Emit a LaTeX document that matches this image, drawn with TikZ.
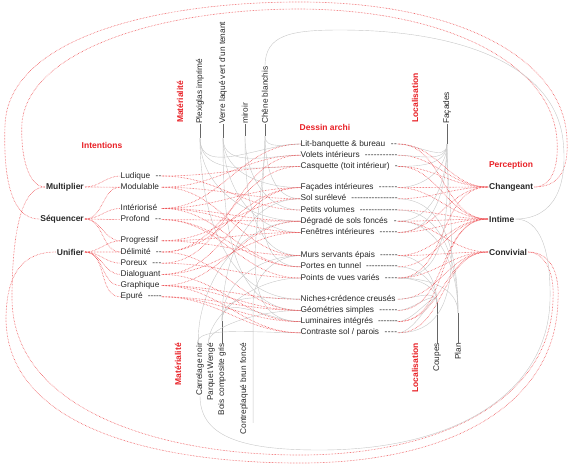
\documentclass[tikz,border=0pt]{standalone}
\usepackage{fontspec}
\setmainfont{Liberation Sans}
\usetikzlibrary{positioning}

\definecolor{rouge}{RGB}{232,32,38}
\definecolor{encre}{RGB}{40,40,40}
\newcommand{\filet}[2]{\hbox to #1{#2\hskip 5pt\xleaders\hbox{-}\hfill}}

\begin{document}
\begin{tikzpicture}[x=1pt,y=1pt,font=\fontsize{8.3}{10}\selectfont]
\tikzstyle{it}=[anchor=west,inner sep=0pt,text height=7.4pt,text depth=3.4pt,text=encre]
\tikzstyle{cat}=[font=\fontsize{8.5}{10}\selectfont\bfseries,text=encre,inner sep=1pt]
\tikzstyle{hd}=[font=\fontsize{8.5}{10}\selectfont\bfseries,text=rouge,inner sep=0pt]
\tikzstyle{mat}=[rotate=90,inner sep=0pt,text=encre]
\tikzstyle{rd}=[draw=rouge!80,line width=0.65pt,dash pattern=on 0.5pt off 1pt]
\tikzstyle{gl}=[draw=black!22,line width=0.4pt]
\tikzstyle{stem}=[draw=black!60,line width=0.6pt]
\tikzstyle{lr}=[out=0,in=180]
\tikzstyle{dl}=[out=-90,in=180]
\tikzstyle{ul}=[out=90,in=180]
\tikzstyle{dr}=[out=-90,in=0]
\tikzstyle{ur}=[out=90,in=0]
\useasboundingbox (0,0) rectangle (578,-467);

% intentions
\node[hd] (intentions) at (102,-145) {Intentions};
\node[cat,anchor=east] (mult) at (85,-187) {Multiplier};
\node[cat,anchor=east] (seq)  at (85,-219) {Séquencer};
\node[cat,anchor=east] (unif) at (85,-252) {Unifier};

\node[it] (ludique) at (120.5,-176)      {\filet{41pt}{Ludique}};
\node[it, below=0pt of ludique] (modul)   {\filet{41pt}{Modulable}};
\node[it, below=10pt of modul]  (interi)  {\filet{41pt}{Intériorisé}};
\node[it, below=0pt of interi]  (profond) {\filet{41pt}{Profond}};
\node[it, below=10pt of profond] (progr)  {\filet{41pt}{Progressif}};
\node[it, below=0pt of progr]   (delim)   {\filet{41pt}{Délimité}};
\node[it, below=0pt of delim]   (poreux)  {\filet{41pt}{Poreux}};
\node[it, below=0pt of poreux]  (dialog)  {\filet{41pt}{Dialoguant}};
\node[it, below=0pt of dialog]  (graph)   {\filet{41pt}{Graphique}};
\node[it, below=0pt of graph]   (epure)   {\filet{41pt}{Epuré}};

% dessin archi
\node[hd] (dessin) at (325,-127) {Dessin archi};
\node[it] (lit) at (300.5,-144)            {\filet{97pt}{Lit-banquette \& bureau}};
\node[it, below=0pt of lit]     (volets)   {\filet{97pt}{Volets intérieurs}};
\node[it, below=0pt of volets]  (casq)     {\filet{97pt}{Casquette (toit intérieur)}};
\node[it, below=10pt of casq]   (facint)   {\filet{97pt}{Façades intérieures}};
\node[it, below=0pt of facint]  (sol)      {\filet{97pt}{Sol surélevé}};
\node[it, below=0pt of sol]     (petits)   {\filet{97pt}{Petits volumes}};
\node[it, below=0pt of petits]  (degrade)  {\filet{97pt}{Dégradé de sols foncés}};
\node[it, below=0pt of degrade] (fenetres) {\filet{97pt}{Fenêtres intérieures}};
\node[it, below=12pt of fenetres] (murs)   {\filet{97pt}{Murs servants épais}};
\node[it, below=0pt of murs]    (portes)   {\filet{97pt}{Portes en tunnel}};
\node[it, below=0pt of portes]  (points)   {\filet{97pt}{Points de vues variés}};
\node[it, below=10pt of points] (niches)   {\filet{97pt}{Niches+crédence creusés}};
\node[it, below=0pt of niches]  (geom)     {\filet{97pt}{Géométries simples}};
\node[it, below=0pt of geom]    (lumin)    {\filet{97pt}{Luminaires intégrés}};
\node[it, below=0pt of lumin]   (contr)    {\filet{97pt}{Contraste sol / parois}};

% perception
\node[hd] (perception) at (511,-165) {Perception};
\node[cat,anchor=west] (chang)  at (488,-187) {Changeant};
\node[cat,anchor=west] (intime) at (488,-219) {Intime};
\node[cat,anchor=west] (conviv) at (488,-252) {Convivial};

% materialite / localisation
\node[hd,rotate=90,anchor=west] (mathaut) at (180,-123) {Matérialité};
\node[mat,anchor=west] (plexi)  at (200,-124) {Plexiglas imprimé};
\node[mat,anchor=west] (verre)  at (223,-124) {Verre laqué vert d'un tenant};
\node[mat,anchor=west] (miroir) at (245,-124) {miroir};
\node[mat,anchor=west] (chene)  at (265,-124) {Chêne blanchis};
\node[hd,rotate=90,anchor=east] (matbas) at (178,-343) {Matérialité};
\node[mat,anchor=east] (carrel)   at (200,-343) {Carrelage noir};
\node[mat,anchor=east] (parquet)  at (211,-343) {Parquet Wengé};
\node[mat,anchor=east] (bois)     at (222,-343) {Bois composite gris};
\node[mat,anchor=east] (contrepl) at (244,-343) {Contreplaqué brun foncé};
\node[hd,rotate=90,anchor=west] (lochaut) at (415,-123) {Localisation};
\node[mat,anchor=west] (facades) at (447,-124) {Façades};
\node[hd,rotate=90,anchor=east] (locbas) at (415,-343) {Localisation};
\node[mat,anchor=east] (coupes) at (437,-343) {Coupes};
\node[mat,anchor=east] (plan)   at (458,-343) {Plan};

% tiges
\draw[stem] (plexi.west)   -- ++(0,-14) coordinate (plx);
\draw[stem] (verre.west)   -- ++(0,-14) coordinate (vrx);
\draw[stem] (miroir.west)  -- ++(0,-12) coordinate (mrx);
\draw[stem] (chene.west)   -- ++(0,-12) coordinate (chx);
\draw[stem] (facades.west) -- ++(0,-20) coordinate (fcx);
\draw[stem] (coupes.east)  -- ++(0,40)  coordinate (cpx);
\draw[stem] (plan.east)    -- ++(0,30)  coordinate (plnx);
\draw[stem] (bois.east)    -- ++(0,22)  coordinate (bsx);

% liens gris
\path[gl]
(plx)  edge[dl] (lit) edge[dl] (casq) edge[dl] (degrade) edge[dl] (niches)
(vrx)  edge[dl] (volets) edge[dl] (facint) edge[dl] (fenetres) edge[dl] (geom)
(mrx)  edge[dl] (petits) edge[dl] (murs)
(chx)  edge[dl] (sol) edge[dl] (lit) edge[dl] (portes) edge[dl] (lumin)
(carrel)  edge[ul] (degrade) edge[ul] (contr)
(parquet) edge[ul] (geom) edge[ul] (points)
(bsx)  edge[ul] (lumin) edge[ul] (niches) edge[ul] (sol) edge[ul] (murs)
(fcx)  edge[dr] (lit) edge[dr] (volets) edge[dr] (casq) edge[dr] (facint)
       edge[dr] (fenetres) edge[dr] (degrade) edge[dr] (points) edge[dr] (contr)
(cpx)  edge[ur] (niches) edge[ur] (geom) edge[ur] (contr) edge[ur] (murs)
       edge[ur] (portes) edge[ur] (points) edge[ur] (lumin)
(plnx) edge[ur] (sol) edge[ur] (petits) edge[ur] (degrade) edge[ur] (points);
\draw[gl] ([xshift=5pt,yshift=12pt]contrepl.south west) -- ([xshift=5pt,yshift=40pt]contrepl.south east) to[ul] (murs.west);

% liens rouges
\path[rd]
(mult) edge[lr] (ludique) edge[lr] (modul)
(seq)  edge[lr] (modul) edge[lr] (interi) edge[lr] (profond) edge[lr] (progr) edge[lr] (delim)
(unif) edge[lr] (progr) edge[lr] (delim) edge[lr] (poreux) edge[lr] (dialog) edge[lr] (graph) edge[lr] (epure)
(ludique) edge[lr] (casq) edge[lr] (petits)
(modul)   edge[lr] (volets) edge[lr] (sol) edge[lr] (murs)
(interi)  edge[lr] (lit) edge[lr] (facint) edge[lr] (degrade) edge[lr] (fenetres) edge[lr] (portes)
(profond) edge[lr] (degrade) edge[lr] (portes) edge[lr] (points)
(progr)   edge[lr] (sol) edge[lr] (fenetres) edge[lr] (murs)
(delim)   edge[lr] (facint) edge[lr] (casq) edge[lr] (geom)
(poreux)  edge[lr] (volets) edge[lr] (points)
(dialog)  edge[lr] (fenetres) edge[lr] (facint) edge[lr] (lumin)
(graph)   edge[lr] (geom) edge[lr] (niches) edge[lr] (contr) edge[lr] (degrade)
(epure)   edge[lr] (geom) edge[lr] (lumin) edge[lr] (contr)
(lit)      edge[lr] (chang) edge[lr] (intime)
(volets)   edge[lr] (chang)
(casq)     edge[lr] (intime) edge[lr] (chang)
(facint)   edge[lr] (chang) edge[lr] (intime)
(sol)      edge[lr] (chang)
(petits)   edge[lr] (intime)
(degrade)  edge[lr] (intime) edge[lr] (conviv)
(fenetres) edge[lr] (intime) edge[lr] (chang)
(murs)     edge[lr] (intime) edge[lr] (conviv)
(portes)   edge[lr] (intime)
(points)   edge[lr] (chang) edge[lr] (conviv)
(niches)   edge[lr] (conviv)
(geom)     edge[lr] (intime)
(lumin)    edge[lr] (conviv) edge[lr] (intime)
(contr)    edge[lr] (conviv);

% grands arcs
\draw[rd] (seq.west) .. controls (12,-219) and (3,-180) .. (5,-125)
  .. controls (8,-40) and (150,-2) .. (300,-2)
  .. controls (460,-2) and (565,-60) .. (567,-140)
  .. controls (569,-175) and (555,-187) .. (chang.east);
\draw[rd] (mult.west) .. controls (30,-187) and (20,-160) .. (22,-122)
  .. controls (30,-50) and (160,-9) .. (300,-9)
  .. controls (450,-10) and (552,-65) .. (557,-140)
  .. controls (559,-170) and (550,-187) .. (chang.east);
\draw[rd] (mult.west) .. controls (25,-187) and (12,-220) .. (12,-300)
  .. controls (14,-410) and (160,-455) .. (300,-455)
  .. controls (440,-455) and (550,-400) .. (553,-300)
  .. controls (555,-265) and (540,-252) .. (conviv.east);
\draw[rd] (unif.west) .. controls (30,-252) and (6,-265) .. (6,-320)
  .. controls (8,-425) and (150,-463) .. (300,-463)
  .. controls (450,-463) and (556,-405) .. (558,-300)
  .. controls (560,-265) and (545,-252) .. (conviv.east);
\draw[gl] (chene.east) .. controls (265,-35) and (290,-30) .. (340,-30)
  .. controls (470,-30) and (555,-70) .. (563,-140)
  .. controls (568,-185) and (555,-219) .. (intime.east);
\draw[gl] (carrel.west) .. controls (200,-440) and (250,-450) .. (320,-450)
  .. controls (460,-450) and (548,-390) .. (550,-300)
  .. controls (551,-250) and (540,-219) .. (intime.east);
\end{tikzpicture}
\end{document}
